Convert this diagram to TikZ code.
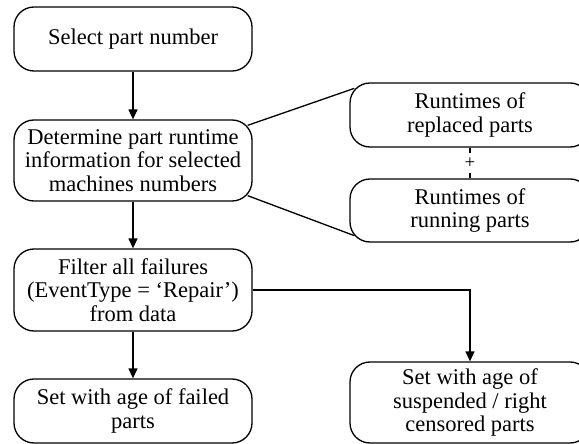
\documentclass[tikz,border=0pt]{standalone}
\usepackage{fontspec}
\setmainfont{Liberation Serif}
\usetikzlibrary{arrows.meta,calc}
\tikzset{
  stepbox/.style={draw, line width=1.3pt, rounded corners=20pt, align=center,
    inner sep=0pt, minimum width=238pt, font=\fontsize{22.5}{23.5}\selectfont},
  flow/.style={draw, line width=1.3pt, -{Triangle[length=10pt,width=9pt]}},
  link/.style={draw, line width=1.3pt}
}
\begin{document}
\begin{tikzpicture}[x=1pt,y=-1pt]
  \clip (0,0) rectangle (579,444);
  \fill[white] (0,0) rectangle (579,444);

  % left column
  \node[stepbox, minimum height=64pt] (sel) at (133,39) {Select part number};
  \node[stepbox, minimum height=81pt] (det) at (133,160.5)
    {Determine part runtime\\information for selected\\machines numbers};
  \node[stepbox, minimum height=82pt] (fil) at (133,290)
    {Filter all failures\\(EventType = ‘Repair’)\\from data};
  \node[stepbox, minimum height=64pt] (fail) at (133,411)
    {Set with age of failed\\parts};

  % right column
  \node[stepbox, minimum width=240pt, minimum height=64pt] (rep) at (470,115)
    {Runtimes of\\replaced parts};
  \node[stepbox, minimum width=240pt, minimum height=63pt] (run) at (470,210.5)
    {Runtimes of\\running parts};
  \node[stepbox, minimum width=240pt, minimum height=81pt] (sus) at (470,402.5)
    {Set with age of\\suspended / right\\censored  parts};

  % main flow
  \draw[flow] (sel.south) -- (det.north);
  \draw[flow] (det.south) -- (fil.north);
  \draw[flow] (fil.south) -- (fail.north);
  \draw[flow] (fil.east) -| (sus.north);

  % runtime sources
  \draw[link] ($(det.north east)+(-5,6)$) -- ($(rep.north west)+(5,6)$);
  \draw[link] ($(det.south east)+(-5,-6)$) -- ($(run.south west)+(5,-7)$);
  \draw[link] (rep.south) -- node[fill=white, inner sep=5pt,
    font=\fontsize{19}{19}\selectfont] (plus) {+} (run.north);
\end{tikzpicture}
\end{document}
